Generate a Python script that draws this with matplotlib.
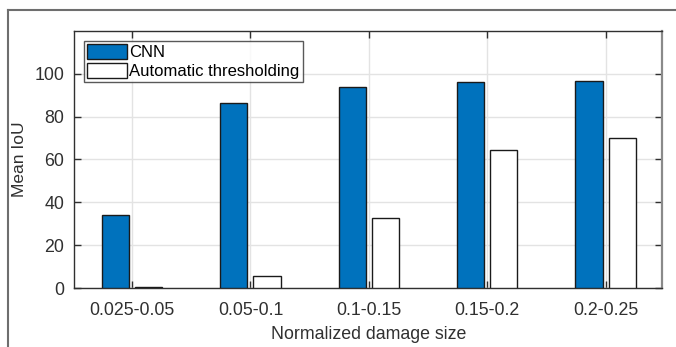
import numpy as np
import matplotlib.pyplot as plt
from matplotlib.lines import Line2D

plt.rcParams['font.family'] = ['Liberation Sans', 'DejaVu Sans']

size_bins = ['0.025-0.05', '0.05-0.1', '0.1-0.15', '0.15-0.2', '0.2-0.25']
cnn_iou = [34.3, 86.6, 93.8, 96.3, 96.6]
thresh_iou = [0.6, 5.6, 32.7, 64.6, 69.9]
yticks = [0, 20, 40, 60, 80, 100]

fig = plt.figure(figsize=(6.76, 3.47), dpi=100)
ax = fig.add_axes([0.1095, 0.170, 0.8705, 0.7407])

x = np.arange(1, len(size_bins) + 1)
off = 0.14
w = 0.23
ax.bar(x - off, cnn_iou, w, color='#0072BD', edgecolor='#1a1a1a', linewidth=1.0,
       label='CNN', zorder=3)
ax.bar(x + off, thresh_iou, w, color='white', edgecolor='#1a1a1a', linewidth=1.0,
       label='Automatic thresholding', zorder=3)

ax.set_xlim(0.51, 5.48)
ax.set_ylim(0, 120)
ax.set_xticks(x)
ax.set_xticklabels(size_bins)
ax.set_yticks(yticks)
ax.grid(True, color='#e3e3e3', linewidth=1.0, zorder=0)
ax.tick_params(direction='in', length=5, width=1, colors='#303030',
               labelsize=12.8, top=True, right=True, pad=7)
ax.tick_params(axis='x', pad=10)
for s in ax.spines.values():
    s.set_color('#303030')
    s.set_linewidth(1.0)
ax.spines['right'].set_color('#8a8a8a')
ax.spines['right'].set_linewidth(1.6)

ax.set_xlabel('Normalized damage size', fontsize=12.8, color='#303030', labelpad=5)
ax.set_ylabel('Mean IoU', fontsize=12.5, color='#303030', labelpad=5)

leg = ax.legend(loc='upper left', bbox_to_anchor=(0.017, 0.962), fontsize=12,
                frameon=True, fancybox=False, edgecolor='#303030',
                handlelength=2.4, handleheight=1.0, handletextpad=0.1,
                borderpad=0.2, labelspacing=0.15, borderaxespad=0)
leg.get_frame().set_linewidth(1.0)

# outer frame around the figure
fig.add_artist(Line2D([8 / 676, 8 / 676], [0, 1 - 10 / 347], color='#6e6e6e', lw=1.5))
fig.add_artist(Line2D([8 / 676, 1], [1 - 10 / 347, 1 - 10 / 347], color='#6e6e6e', lw=1.5))

fig.savefig('out.png', dpi=100)
